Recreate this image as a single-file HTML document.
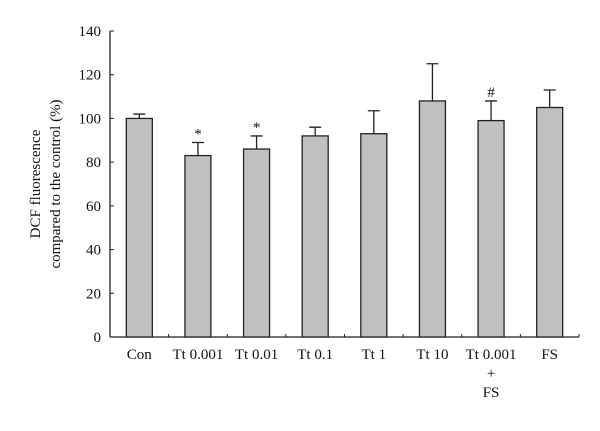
<!DOCTYPE html>
<html><head><meta charset="utf-8"><style>
body{margin:0;background:#fff}
svg text{font-family:"Liberation Serif",serif;fill:#111}
</style></head><body>
<svg id="chart" width="600" height="426" viewBox="0 0 600 426">
<text transform="translate(40,184) rotate(-90)" text-anchor="middle" font-size="15"><tspan x="0" dy="0">DCF fluorescence</tspan><tspan x="0" dy="20">compared to the control (%)</tspan></text>
<g id="axes"></g><g id="bars"></g>
</svg>
<script>
const categories=["Con","Tt 0.001","Tt 0.01","Tt 0.1","Tt 1","Tt 10","Tt 0.001|+|FS","FS"];
const values=[100,83,86,92,93,108,99,105];
const errors=[2,6,6,4,10.5,17,9,8];
const marks=["","*","*","","","","#",""];
const yTicks=[0,20,40,60,80,100,120,140];
const NS="http://www.w3.org/2000/svg";
const x0=110,x1=579,y0=337,y1=31,ymax=140;
const bw=(x1-x0)/categories.length;
const yS=v=>y0-(v/ymax)*(y0-y1);
const xS=i=>x0+bw*(i+0.5);
const ax=document.getElementById('axes'),bg=document.getElementById('bars');
function mk(t,a,p){const e=document.createElementNS(NS,t);for(const k in a)e.setAttribute(k,a[k]);p.appendChild(e);return e;}
let l=mk('line',{x1:x0,y1:y1,x2:x0,y2:y0,stroke:'#222','stroke-width':1.3},ax);


l=mk('line',{x1:x0,y1:y0,x2:x1,y2:y0,stroke:'#222','stroke-width':1.3},ax);


yTicks.forEach(v=>{
 const t=mk('line',{x1:x0,x2:x0+4,y1:yS(v),y2:yS(v),stroke:'#222','stroke-width':1},ax);
 
 
 const tx=mk('text',{x:101,y:yS(v)+5,'text-anchor':'end','font-size':15},ax);
 tx.textContent=v;
 
 
});
for(let i=1;i<=categories.length;i++){
 const t=mk('line',{x1:x0+bw*i,x2:x0+bw*i,y1:y0,y2:y0-3,stroke:'#222','stroke-width':1},ax);
 
 
}
categories.forEach((c,i)=>{
 const cx=xS(i),w=26,top=yS(values[i]),et=yS(values[i]+errors[i]);
 const eb=mk('path',{d:`M${cx} ${top}V${et}M${cx-6} ${et}H${cx+6}`,stroke:'#222','stroke-width':1.3,fill:'none'},bg);
 
 
 const r=mk('rect',{x:cx-w/2,y:top,width:w,height:y0-top,fill:'#c0c0c0',stroke:'#222','stroke-width':1.3},bg);
 
 
 if(marks[i]){
  const m=mk('text',{x:cx,y:et-4,'text-anchor':'middle','font-size':15},bg);
  m.textContent=marks[i];
  
  
 }
 c.split('|').forEach((s,j)=>{
  const t=mk('text',{x:cx,y:359+j*19,'text-anchor':'middle','font-size':15},ax);
  t.textContent=s;
  
  
 });
});
</script>
</body></html>
